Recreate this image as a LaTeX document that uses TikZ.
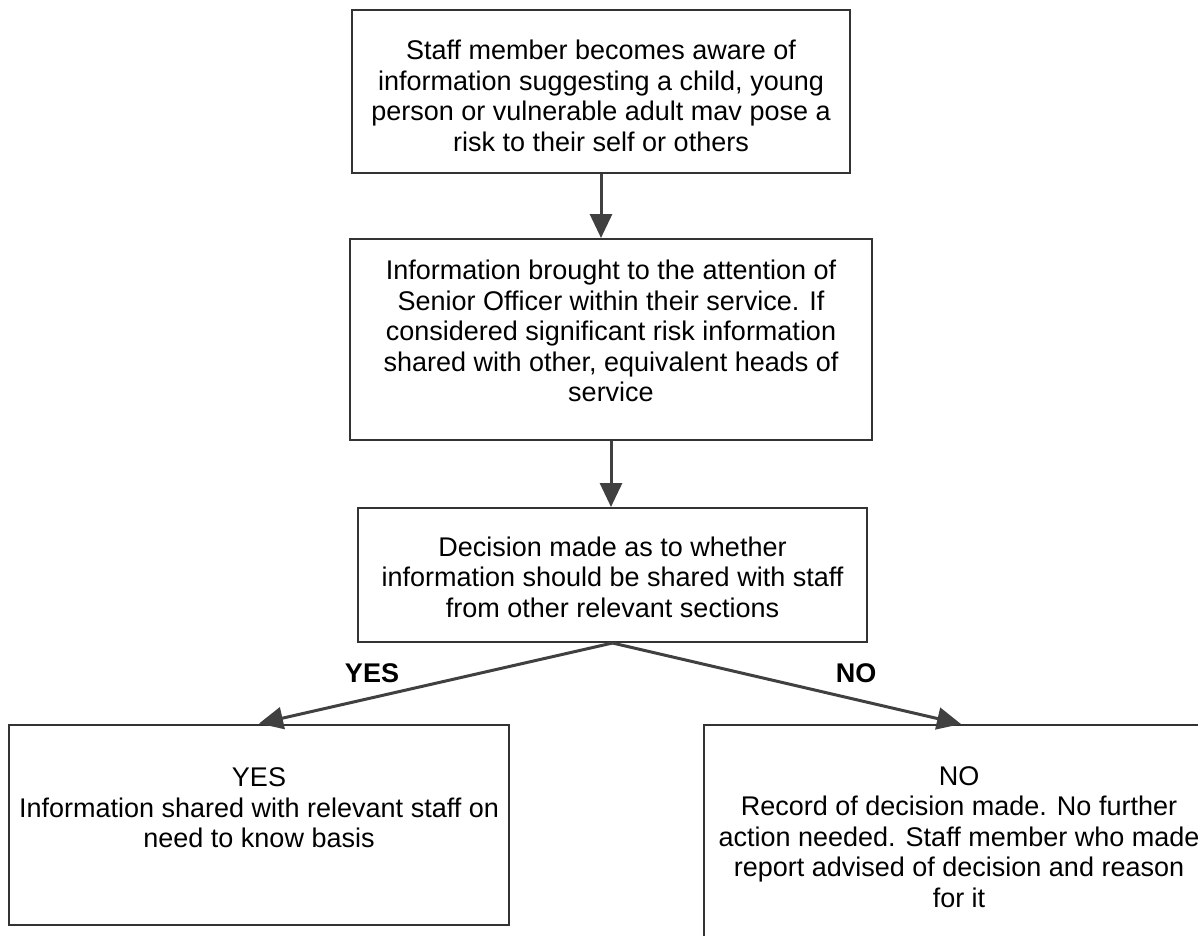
\documentclass[tikz,border=0pt]{standalone}
\usepackage{fontspec}
\setmainfont{Liberation Sans}
\usetikzlibrary{arrows.meta}
\definecolor{boxc}{HTML}{333333}
\definecolor{arrc}{HTML}{404040}
\begin{document}
\begin{tikzpicture}[x=1pt,y=-1pt,
  box/.style={draw=boxc, line width=2pt, rectangle, inner sep=0pt},
  txt/.style={align=center, font=\fontsize{27}{30.5}\selectfont, text=black, inner sep=0pt},
  lbl/.style={font=\fontsize{27}{30.5}\selectfont\bfseries, text=black, inner sep=0pt},
  flow/.style={draw=arrc, line width=3pt, -{Triangle[length=24pt,width=22pt]}}]
\useasboundingbox (0,0) rectangle (1198,935);
\clip (0,0) rectangle (1198,935);
\fill[white] (0,0) rectangle (1198,935);

\node[box, minimum width=498pt, minimum height=163pt] (b1) at (601,91.5) {};
\node[txt] (t1) at (601,96) {Staff member becomes aware of\\information suggesting a child, young\\person or vulnerable adult mav pose a\\risk to their self or others};

\node[box, minimum width=522pt, minimum height=201pt] (b2) at (611,339.5) {};
\node[txt] (t2) at (611,331) {Information brought to the attention of\\Senior Officer within their service. If\\considered significant risk information\\shared with other, equivalent heads of\\service};

\node[box, minimum width=509pt, minimum height=134pt] (b3) at (612.5,575) {};
\node[txt] (t3) at (612.5,577) {Decision made as to whether\\information should be shared with staff\\from other relevant sections};

\node[box, minimum width=500pt, minimum height=200pt] (yes) at (259,824.5) {};
\node[txt] (t4) at (259,808) {YES\\Information shared with relevant staff on\\need to know basis};

\node[box, minimum width=514pt, minimum height=260pt] (no) at (961,855) {};
\node[txt] (t5) at (959,837) {NO\\Record of decision made. No further\\action needed. Staff member who made\\report advised of decision and reason\\for it};

\node[lbl] (ly) at (372,673) {YES};
\node[lbl] (ln) at (856,673) {NO};

\draw[flow] (b1.south) -- (b1.south |- b2.north);
\draw[flow] (b2.south) -- (b2.south |- b3.north);
\draw[flow] (b3.south) -- (yes.north);
\draw[flow] (b3.south) -- (no.north);
\end{tikzpicture}
\end{document}
